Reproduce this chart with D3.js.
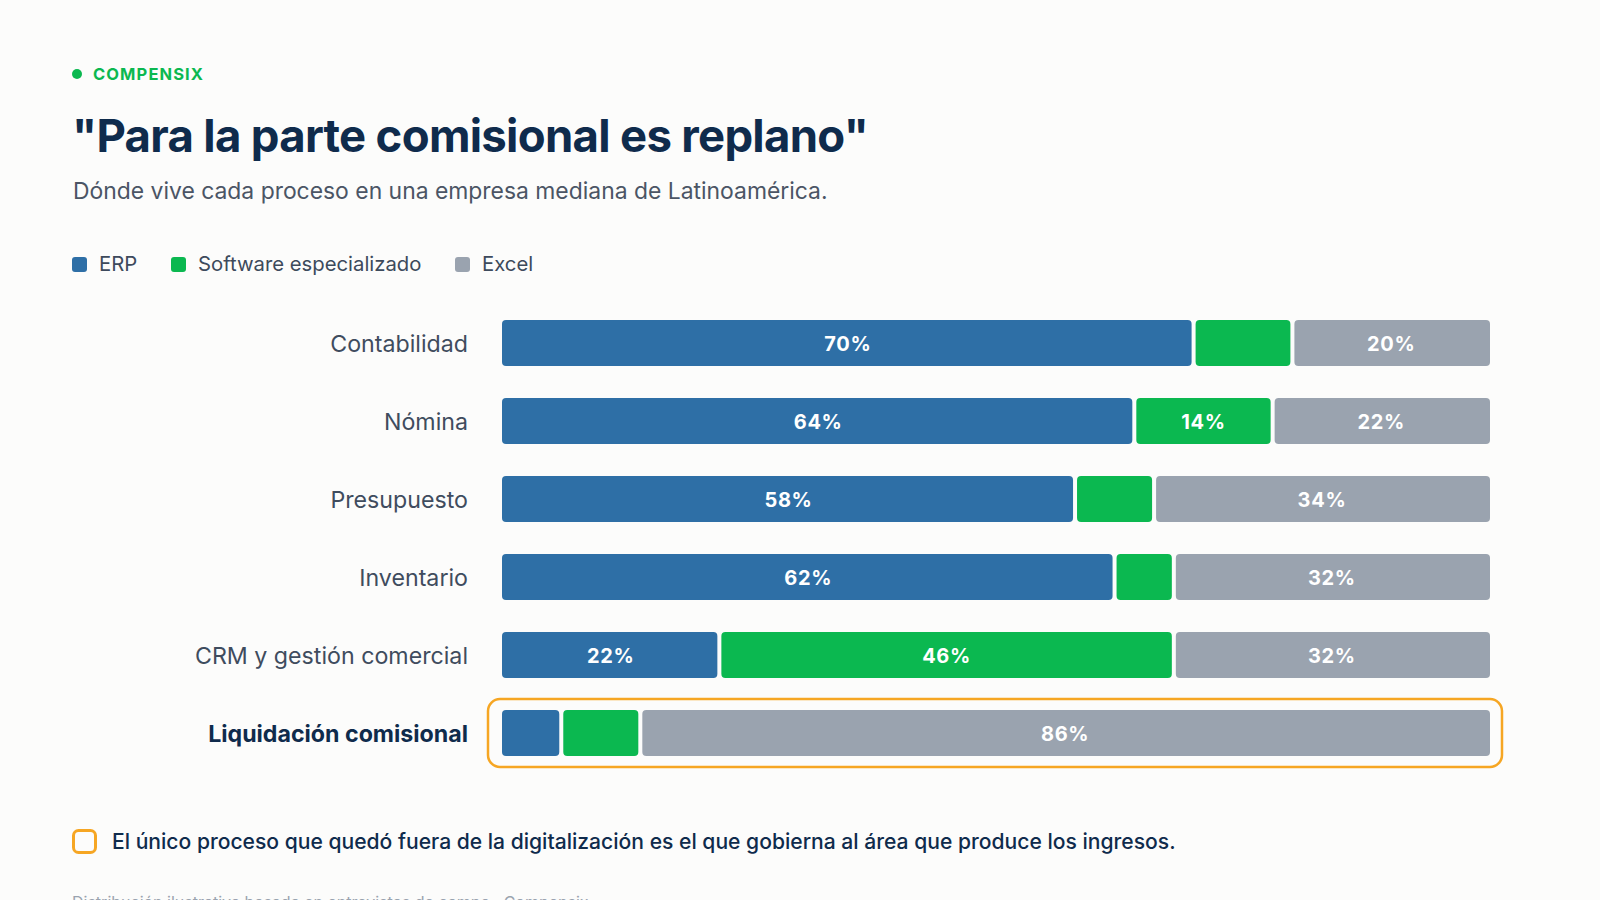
<!DOCTYPE html>
<html>
<head>
<meta charset="utf-8">
<script src="https://cdn.jsdelivr.net/npm/d3@7"></script>
<style>
  html, body { margin: 0; padding: 0; background: #fcfcfb; }
  svg { display: block; font-family: Inter, "Noto Sans", sans-serif; }
</style>
</head>
<body>
<svg id="chart" width="1600" height="900"></svg>
<script>
// datos
var categories = ['Contabilidad', 'Nómina', 'Presupuesto', 'Inventario', 'CRM y gestión comercial', 'Liquidación comisional'];
var seriesNames = ['ERP', 'Software especializado', 'Excel'];
var erp = [70, 64, 58, 62, 22, 6];
var software = [10, 14, 8, 6, 46, 8];
var excel = [20, 22, 34, 32, 32, 86];
var highlighted = 'Liquidación comisional';

var colors = ['#2e6fa6', '#0bb850', '#9aa3af'];

var svg = d3.select('#chart');

// encabezado
svg.append('circle')
    .attr('cx', 77)
    .attr('cy', 74)
    .attr('r', 5)
    .attr('fill', '#0bb850');

svg.append('text')
    .attr('x', 93)
    .attr('y', 80)
    .attr('font-size', 16.5)
    .attr('font-weight', 700)
    .attr('letter-spacing', '1.1px')
    .attr('fill', '#0bb850')
    .text('COMPENSIX');

svg.append('text')
    .attr('x', 72)
    .attr('y', 152)
    .attr('font-size', 45.5)
    .attr('font-weight', 700)
    .attr('letter-spacing', '-0.7px')
    .attr('fill', '#0f2b4c')
    .text('"Para la parte comisional es replano"');

svg.append('text')
    .attr('x', 73)
    .attr('y', 199)
    .attr('font-size', 22.9)
    .attr('fill', '#4b5565')
    .text('Dónde vive cada proceso en una empresa mediana de Latinoamérica.');

// leyenda
var legendX = [72, 171, 455];
var legend = svg.selectAll('g.legend')
    .data(seriesNames)
    .enter()
    .append('g')
    .attr('class', 'legend')
    .attr('transform', function (d, i) { return 'translate(' + legendX[i] + ',257)'; });

legend.append('rect')
    .attr('width', 15)
    .attr('height', 15)
    .attr('rx', 3)
    .attr('fill', function (d, i) { return colors[i]; });

legend.append('text')
    .attr('x', 27)
    .attr('y', 14)
    .attr('font-size', 20.3)
    .attr('fill', '#3d4a5c')
    .text(function (d) { return d; });

// escalas
var x = d3.scaleLinear().domain([0, 100]).range([502, 1490]);
var y = d3.scaleBand()
    .domain(categories)
    .range([304, 304 + categories.length * 78])
    .paddingInner(32 / 78)
    .paddingOuter(16 / 78);

var rows = categories.map(function (c, i) {
    return { category: c, ERP: erp[i], 'Software especializado': software[i], Excel: excel[i] };
});
var stacked = d3.stack().keys(seriesNames)(rows);

// caja de resaltado
svg.append('rect')
    .attr('x', x(0) - 14)
    .attr('y', y(highlighted) - 11)
    .attr('width', x(100) - x(0) + 26)
    .attr('height', y.bandwidth() + 22)
    .attr('rx', 12)
    .attr('fill', 'none')
    .attr('stroke', '#f6a623')
    .attr('stroke-width', 2.5);

// barras
var gap = 2;
var layers = svg.selectAll('g.layer')
    .data(stacked)
    .enter()
    .append('g')
    .attr('class', 'layer')
    .attr('fill', function (d, i) { return colors[i]; });

layers.selectAll('rect')
    .data(function (d) { return d.map(function (p) { return { s: d.index, p: p }; }); })
    .enter()
    .append('rect')
    .attr('x', function (d) { return x(d.p[0]) + (d.s > 0 ? gap : 0); })
    .attr('y', function (d) { return y(d.p.data.category); })
    .attr('width', function (d) {
        var w = x(d.p[1]) - x(d.p[0]);
        if (d.s > 0) w -= gap;
        if (d.s < seriesNames.length - 1) w -= gap;
        return w;
    })
    .attr('height', y.bandwidth())
    .attr('rx', 4);

layers.selectAll('text')
    .data(function (d) {
        return d.map(function (p) { return { s: d.index, p: p, v: p[1] - p[0] }; })
            .filter(function (d) { return d.v > 10; });
    })
    .enter()
    .append('text')
    .attr('x', function (d) { return (x(d.p[0]) + x(d.p[1])) / 2; })
    .attr('y', function (d) { return y(d.p.data.category) + y.bandwidth() / 2; })
    .attr('dy', '0.4em')
    .attr('text-anchor', 'middle')
    .attr('font-size', 20)
    .attr('font-weight', 700)
    .attr('letter-spacing', '0.7px')
    .attr('fill', '#ffffff')
    .text(function (d) { return d.v + '%'; });

// etiquetas de categoría
svg.selectAll('text.cat')
    .data(categories)
    .enter()
    .append('text')
    .attr('class', 'cat')
    .attr('x', 468)
    .attr('y', function (d) { return y(d) + y.bandwidth() / 2; })
    .attr('dy', '0.38em')
    .attr('text-anchor', 'end')
    .attr('font-size', 23.2)
    .attr('font-weight', function (d) { return d === highlighted ? 700 : 400; })
    .attr('fill', function (d) { return d === highlighted ? '#0f2b4c' : '#3f4c5e'; })
    .text(function (d) { return d; });

// nota
svg.append('rect')
    .attr('x', 73.5)
    .attr('y', 830.5)
    .attr('width', 22)
    .attr('height', 22)
    .attr('rx', 5)
    .attr('fill', 'none')
    .attr('stroke', '#f6a623')
    .attr('stroke-width', 3);

svg.append('text')
    .attr('x', 112)
    .attr('y', 849)
    .attr('font-size', 21.1)
    .attr('font-weight', 500)
    .attr('fill', '#0f2b4c')
    .text('El único proceso que quedó fuera de la digitalización es el que gobierna al área que produce los ingresos.');

svg.append('text')
    .attr('x', 72)
    .attr('y', 908)
    .attr('font-size', 16)
    .attr('fill', '#9aa3af')
    .text('Distribución ilustrativa basada en entrevistas de campo · Compensix');
</script>
</body>
</html>
